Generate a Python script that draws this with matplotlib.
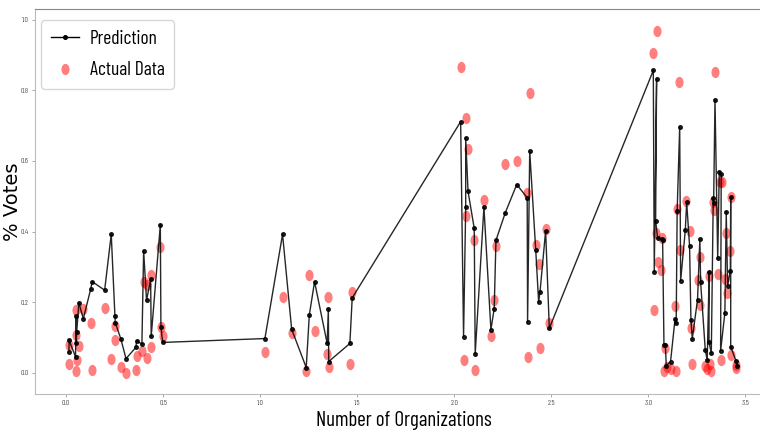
import numpy as np
import matplotlib
matplotlib.use("Agg")
import matplotlib.pyplot as plt
from matplotlib import font_manager
from matplotlib.path import Path
from matplotlib.lines import Line2D

# predicted share of votes, in the order the model output them
pred_x = [0.014, 0.015, 0.048, 0.050, 0.052, 0.054, 0.065, 0.088, 0.126, 0.134,
          0.198, 0.232, 0.251, 0.253, 0.282, 0.308, 0.359, 0.363, 0.390, 0.399,
          0.414, 0.435, 0.438, 0.485, 0.488, 0.497,
          1.024, 1.115, 1.162, 1.237, 1.253, 1.280, 1.345, 1.351, 1.353, 1.462, 1.474,
          2.033, 2.048, 2.059, 2.059, 2.071, 2.103, 2.108, 2.153, 2.189, 2.206,
          2.215, 2.263, 2.322, 2.376, 2.378, 2.389, 2.420, 2.435, 2.442, 2.471, 2.490,
          3.026, 3.031, 3.043, 3.038, 3.048, 3.069, 3.074, 3.081, 3.088, 3.093,
          3.115, 3.138, 3.144, 3.149, 3.162, 3.167, 3.191, 3.198, 3.213, 3.220,
          3.227, 3.254, 3.266, 3.270, 3.294, 3.304, 3.314, 3.313, 3.325, 3.335,
          3.337, 3.344, 3.358, 3.366, 3.376, 3.373, 3.395, 3.402, 3.409, 3.423,
          3.425, 3.425, 3.452, 3.459]
pred_y = [0.059, 0.092, 0.045, 0.161, 0.083, 0.116, 0.199, 0.153, 0.237, 0.258,
          0.234, 0.392, 0.161, 0.142, 0.095, 0.040, 0.072, 0.091, 0.081, 0.345,
          0.205, 0.265, 0.103, 0.419, 0.130, 0.086,
          0.097, 0.392, 0.123, 0.015, 0.164, 0.258, 0.083, 0.180, 0.032, 0.083, 0.212,
          0.711, 0.102, 0.469, 0.664, 0.514, 0.409, 0.054, 0.469, 0.122, 0.182,
          0.375, 0.453, 0.533, 0.496, 0.144, 0.628, 0.348, 0.200, 0.229, 0.402, 0.126,
          0.856, 0.286, 0.833, 0.431, 0.382, 0.378, 0.376, 0.078, 0.078, 0.020,
          0.032, 0.152, 0.140, 0.458, 0.697, 0.261, 0.404, 0.483, 0.359, 0.149,
          0.097, 0.207, 0.379, 0.256, 0.064, 0.036, 0.286, 0.088, 0.055, 0.494,
          0.480, 0.773, 0.324, 0.569, 0.562, 0.062, 0.170, 0.456, 0.246, 0.289,
          0.497, 0.074, 0.034, 0.019]

# observed share of votes
act_x = [0.014, 0.015, 0.048, 0.050, 0.052, 0.054, 0.065, 0.088, 0.126, 0.134,
         0.198, 0.232, 0.251, 0.253, 0.282, 0.308, 0.359, 0.363, 0.390, 0.399,
         0.414, 0.414, 0.435, 0.438, 0.485, 0.488, 0.497,
         1.024, 1.115, 1.162, 1.237, 1.253, 1.280, 1.345, 1.351, 1.353, 1.462, 1.474,
         2.033, 2.059, 2.071, 2.059, 2.103, 2.050, 2.108, 2.153, 2.189, 2.206,
         2.215, 2.263, 2.322, 2.376, 2.378, 2.389, 2.420, 2.435, 2.442, 2.471, 2.490,
         3.043, 3.026, 3.160, 3.345, 3.038, 3.073, 3.049, 3.065, 3.031, 3.087,
         3.079, 3.095, 3.117, 3.144, 3.139, 3.148, 3.165, 3.195, 3.215, 3.220,
         3.228, 3.254, 3.266, 3.269, 3.295, 3.305, 3.316, 3.323, 3.314, 3.336,
         3.339, 3.370, 3.378, 3.359, 3.375, 3.395, 3.403, 3.408, 3.422, 3.424,
         3.425, 3.451, 3.454]
act_y = [0.025, 0.078, 0.006, 0.178, 0.108, 0.035, 0.076, 0.180, 0.142, 0.007,
         0.183, 0.038, 0.132, 0.092, 0.017, 0.000, 0.008, 0.047, 0.063, 0.256,
         0.249, 0.042, 0.277, 0.072, 0.357, 0.130, 0.104,
         0.058, 0.216, 0.112, 0.006, 0.277, 0.118, 0.052, 0.216, 0.017, 0.025, 0.230,
         0.865, 0.721, 0.633, 0.444, 0.375, 0.036, 0.008, 0.489, 0.105, 0.205,
         0.360, 0.592, 0.599, 0.510, 0.044, 0.792, 0.363, 0.309, 0.071, 0.407, 0.140,
         0.967, 0.905, 0.823, 0.853, 0.397, 0.381, 0.313, 0.291, 0.177, 0.069,
         0.004, 0.017, 0.012, 0.005, 0.189, 0.464, 0.349, 0.487, 0.401, 0.126,
         0.025, 0.263, 0.329, 0.191, 0.018, 0.012, 0.025, 0.006, 0.273, 0.483,
         0.461, 0.541, 0.541, 0.279, 0.037, 0.267, 0.397, 0.226, 0.345, 0.497,
         0.050, 0.022, 0.013]

x_ticks = [0.0, 0.5, 1.0, 1.5, 2.0, 2.5, 3.0, 3.5]
y_ticks = [0.0, 0.2, 0.4, 0.6, 0.8, 1.0]

# the reference text is squeezed sideways; use a condensed face when there is one
have = {f.name for f in font_manager.fontManager.ttflist}
if 'Barlow Condensed' in have:
    narrow, k = 'Barlow Condensed', 1.0
else:
    narrow, k = 'DejaVu Sans', 0.65

# same squeeze makes the dots taller than wide
circ = Path.unit_circle()
oval = Path(circ.vertices * np.array([0.72, 1.0]), circ.codes)

fig = plt.figure(figsize=(7.6, 4.32), dpi=100)
ax = fig.add_axes([35 / 760, 38 / 432, 738 / 760, 385 / 432])

ax.plot(pred_x, pred_y, color='black', lw=1.0, alpha=0.85,
        marker='o', markersize=2.6, zorder=3)
ax.scatter(act_x, act_y, s=66, marker=oval, color='red', alpha=0.5,
           linewidths=0, zorder=2)

ax.set_xlim(-0.161, 3.643)
ax.set_ylim(-0.060, 1.030)
ax.set_xticks(x_ticks)
ax.set_yticks(y_ticks)
ax.set_xticklabels(['%.1f' % t for t in x_ticks], family=narrow, fontsize=5.5 * k, color='#555555')
ax.set_yticklabels(['%.1f' % t for t in y_ticks], family=narrow, fontsize=5.5 * k, color='#555555')
ax.tick_params(length=2.5, width=0.6, color='#999999', pad=2)

for side in ['left', 'bottom']:
    ax.spines[side].set_color('#bbbbbb')
ax.spines['top'].set_color('#888888')
ax.spines['right'].set_visible(False)

ax.set_xlabel('Number of Organizations', family=narrow, fontsize=15 * k)
ax.xaxis.set_label_coords(0.5, -0.045, transform=ax.transAxes)
ax.xaxis.label.set_va('top')
ax.set_ylabel('% Votes', fontsize=14)
ax.yaxis.set_label_coords(-0.0176, 0.5)

handles = [Line2D([], [], color='black', lw=1.0, marker='o', markersize=2.6),
           Line2D([], [], ls='none', marker=oval, markersize=8.1,
                  markerfacecolor='red', markeredgewidth=0, alpha=0.5)]
ax.legend(handles, ['Prediction', 'Actual Data'], loc='upper left',
          bbox_to_anchor=(6 / 738, 1 - 11 / 385), borderaxespad=0,
          prop={'family': narrow, 'size': 14 * k}, handlelength=1.45,
          handletextpad=0.55, borderpad=0.5, labelspacing=0.7)

fig.savefig('out.png', dpi=100)
